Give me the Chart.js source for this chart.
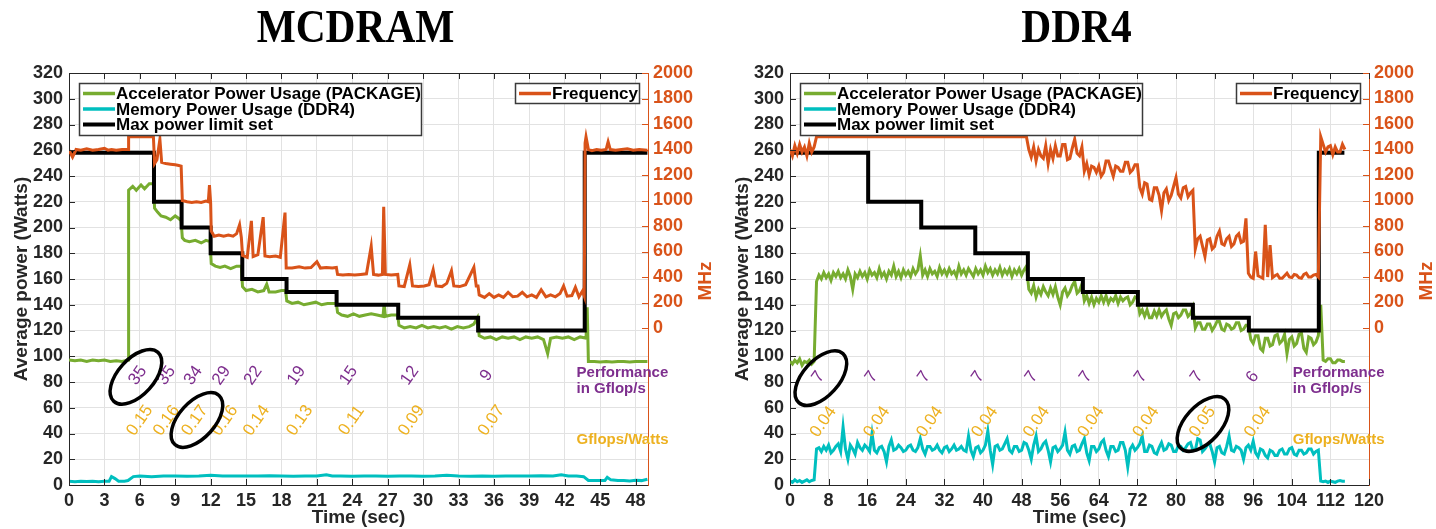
<!DOCTYPE html>
<html>
<head>
<meta charset="utf-8">
<title>Power capping: MCDRAM vs DDR4</title>
<script src="https://cdn.jsdelivr.net/npm/chart.js@4.4.1/dist/chart.umd.min.js"></script>
<style>
  html, body { margin: 0; padding: 0; background: #fff; overflow: hidden; }
  #wrap { width: 1436px; height: 529px; font-size: 0; white-space: nowrap; }
  .panel { display: inline-block; width: 718px; height: 529px; vertical-align: top; }
  canvas { display: block; }
</style>
</head>
<body>
<div id="wrap">
  <div class="panel"><canvas id="mcdramChart" width="718" height="529"></canvas></div>
  <div class="panel"><canvas id="ddr4Chart" width="718" height="529"></canvas></div>
</div>
<script>
// ---------- shared axis ticks ----------
const powerTicks = [0, 20, 40, 60, 80, 100, 120, 140, 160, 180, 200, 220, 240, 260, 280, 300, 320];
const freqTicks = [0, 200, 400, 600, 800, 1000, 1200, 1400, 1600, 1800, 2000];

// ---------- MCDRAM run: [time (s), value] ----------
const mcTimeTicks = [0, 3, 6, 9, 12, 15, 18, 21, 24, 27, 30, 33, 36, 39, 42, 45, 48];

const mcPackage = [
  [0,97],[0.5,96.5],[1,97],[1.5,96],[2,97],[2.5,96.5],[3,97],[3.5,96],[4,96.5],[4.5,96],[5.0,97],
  [5.05,229],[5.4,232],[5.7,229],[6.1,233],[6.4,230],[6.8,234],[7.15,234],
  [7.25,215],[7.5,212],[7.8,209],[8.2,208],[8.6,206],[9.0,209],[9.3,207],[9.5,205],
  [9.6,192],[9.8,190],[10.2,189],[10.7,190],[11.2,188],[11.6,190],[11.95,189],
  [12.05,172],[12.4,170],[12.8,169],[13.2,170],[13.7,168],[14.2,170],[14.6,170],
  [14.7,154],[15.0,151],[15.5,152],[16.0,150],[16.5,151],[16.75,156],[16.95,150],[17.5,150],[18.0,151],[18.35,151],
  [18.45,143],[18.9,141],[19.4,142],[19.9,140],[20.4,141],[20.9,142],[21.4,140],[21.9,141],[22.3,141],[22.65,141],
  [22.75,134],[23.1,132],[23.6,131],[24.1,133],[24.6,131],[25.1,132],[25.6,133],[26.1,132],[26.6,131],[26.7,141],[26.8,131],[27.3,132],[27.85,132],
  [27.95,124],[28.4,122],[28.9,123],[29.4,122],[29.9,124],[30.4,122],[30.9,123],[31.4,122],[31.9,123],[32.4,121],[32.9,123],[33.4,122],[33.9,123],[34.3,125],[34.6,130],
  [34.75,116],[35.2,114],[35.7,115],[36.2,113],[36.7,115],[37.2,114],[37.7,115],[38.2,113],[38.7,115],[39.2,114],[39.7,115],[40.2,113],[40.55,102],[40.8,114],[41.3,115],[41.8,114],[42.3,115],[42.8,113],[43.3,115],[43.8,114],
  [43.9,138],[44.0,96],[44.5,96],[45,95.5],[45.5,96],[46,95.5],[46.5,96],[47,96],[47.5,95.5],[48,96],[48.5,96],[49,96]
];

const mcMemory = [
  [0,3],[0.5,2.5],[1,3],[1.5,2.8],[2,3],[2.5,2.6],[3,3],[3.4,3],[3.6,6.5],[3.9,5],[4.2,3],[4.7,3],[5.0,3.5],[5.45,6.5],
  [6,7],[7,6.5],[8,7],[9,7],[10,6.8],[11,7],[12,7.5],[13,7],[14,7],[15,7],[16,7],[17,7.2],[18,7],[19,6.8],[20,7],[21,7],
  [21.8,8],[22.3,7],[23,7],[24,6.8],[25,7],[26,7],[27,6.8],[28,7],[29,7],[30,6.8],[31,7],[32,7.5],[33,7],[34,6.8],[35,7],
  [36,6.8],[37,7],[38,7],[39,7],[40,7.2],[41,7],[41.7,8],[42.3,7],[43,7],[43.6,6.5],[44,3.5],[44.7,3.5],[45.4,3.5],
  [45.6,6],[45.9,4],[46.5,3.5],[47,3.5],[47.5,3.2],[48,3.6],[48.5,3.4],[49,4.5]
];

const mcLimit = [
  [0,258],[7.2,220],[9.54,200],[12.0,180],[14.68,160],[18.43,150],[22.67,140],[27.89,130],[34.66,120],[43.69,258],[49,258]
];

const mcFreq = [
  [0,1395],[0.3,1340],[0.6,1400],[1,1395],[1.5,1405],[2,1395],[2.5,1400],[3,1410],[3.3,1395],[3.6,1400],[4,1395],[4.5,1400],[5.0,1400],
  [5.05,1500],[7.15,1500],
  [7.25,1290],[7.45,1320],[7.7,1480],[7.85,1300],[8.2,1290],[8.6,1285],[9.0,1280],[9.3,1275],[9.5,1270],
  [9.6,1000],[10.0,990],[10.4,985],[10.8,990],[11.2,985],[11.6,995],[11.8,990],[11.9,1120],[12.0,980],
  [12.05,760],[12.3,720],[12.7,730],[13.1,720],[13.5,730],[13.9,720],[14.2,740],[14.45,810],[14.6,710],
  [14.7,570],[15.1,555],[15.45,840],[15.6,560],[16.0,575],[16.45,870],[16.6,565],[17.0,560],[17.5,565],[17.9,555],[18.3,905],[18.4,470],
  [18.9,470],[19.5,480],[20.0,470],[20.5,475],[21.0,520],[21.3,470],[21.8,475],[22.3,470],[22.65,475],
  [22.75,420],[23.2,415],[23.7,420],[24.2,415],[24.7,420],[25.2,425],[25.6,640],[25.8,420],[26.2,415],[26.55,420],[26.66,950],[26.8,420],[27.3,415],[27.85,420],
  [27.95,330],[28.4,325],[28.87,496],[29.1,330],[29.6,325],[30.1,330],[30.5,340],[30.85,457],[31.1,330],[31.6,325],[32.0,350],[32.4,450],[32.6,330],[33.1,325],[33.6,340],[34.3,476],[34.5,330],[34.65,330],
  [34.75,260],[35.2,240],[35.6,270],[36.0,240],[36.4,260],[36.8,240],[37.2,280],[37.6,245],[38.0,250],[38.4,280],[38.8,245],[39.2,260],[39.6,240],[40.0,300],[40.4,245],[40.8,260],[41.2,245],[41.6,270],[41.9,330],[42.2,250],[42.6,255],[42.9,320],[43.2,245],[43.5,290],[43.65,250],
  [43.72,1450],[43.8,1500],[44.0,1400],[44.3,1390],[44.7,1400],[45.1,1395],[45.5,1400],[45.67,1460],[45.85,1400],[46.3,1395],[46.8,1400],[47.3,1405],[47.8,1395],[48.3,1400],[49,1395]
];

const mcPerfLabels = ['35', '35', '34', '29', '22', '19', '15', '12', '9'];
const mcPerfTimes = [5.84, 8.27, 10.53, 12.93, 15.61, 19.28, 23.7, 28.87, 35.37];
const mcEffLabels = ['0.15', '0.16', '0.17', '0.16', '0.14', '0.13', '0.11', '0.09', '0.07'];
const mcEffTimes = [6.01, 8.27, 10.67, 13.21, 15.89, 19.56, 23.94, 29.02, 35.79];
const mcCircled = [[5.67, 84], [10.84, 50.5]];

// ---------- DDR4 run: sampled every 0.5 s from t = 0 (one row = 5 s) ----------
const ddrTimeTicks = [0, 8, 16, 24, 32, 40, 48, 56, 64, 72, 80, 88, 96, 104, 112, 120];
const ddrSampleStep = 0.5;

const ddrPackage = [
  96,94,97,95,98,93,96,95,97,94,
  96,158,163,160,165,161,164,159,165,162,
  166,161,164,160,167,162,152,164,161,166,
  162,165,160,167,163,165,161,168,162,165,
  160,166,163,170,162,166,161,167,163,166,
  162,168,164,167,178,163,167,162,168,164,
  166,162,169,164,167,163,168,164,166,162,
  170,164,167,163,168,165,162,168,164,167,
  163,170,165,168,163,167,164,169,163,167,
  164,168,162,167,164,168,163,167,170,152,
  149,155,146,152,148,154,150,147,153,148,
  154,146,140,150,153,147,150,155,158,149,
  151,156,143,147,141,146,140,145,142,147,
  142,147,141,145,143,147,141,146,143,145,
  146,140,142,146,145,133,136,131,136,130,
  130,135,131,136,131,134,136,129,124,133,
  134,130,132,136,136,131,133,138,122,126,
  126,121,121,125,125,120,123,127,127,121,
  120,125,124,121,122,126,126,120,121,124,
  124,113,110,116,116,106,104,114,114,108,
  109,116,117,110,112,117,102,113,115,108,
  110,117,118,106,103,115,114,109,111,116,
  140,97,96,98,98,95,95,97,97,96,
  96
];

const ddrMemory = [
  3,2,4,2.5,3.5,2,3,4,2.5,3.5,
  4,28,29,26,30,27,31,25,27,30,
  32,26,45,28,20,31,28,24,33,29,
  27,31,29,26,40,27,25,29,30,26,
  18,30,35,27,28,31,29,26,27,30,
  31,27,26,29,36,28,24,30,30,27,
  28,31,27,25,29,30,26,28,31,27,
  28,30,27,26,38,27,22,29,30,25,
  27,31,42,27,16,30,31,27,28,32,
  36,27,25,30,30,26,27,33,32,27,
  20,31,38,26,28,32,34,27,18,29,
  30,26,28,31,41,27,24,30,31,26,
  27,32,36,25,19,30,30,26,28,33,
  35,27,22,30,30,26,27,33,33,27,
  14,28,31,27,29,32,38,26,26,31,
  30,25,24,29,33,27,28,32,31,26,
  26,31,30,27,29,32,33,27,27,36,
  35,26,28,31,32,26,18,29,30,25,
  24,30,38,27,26,30,29,27,20,29,
  31,27,34,25,22,28,27,23,21,27,
  26,23,23,27,28,24,24,28,29,24,
  23,27,27,24,25,28,28,24,26,27,
  3,2.5,3,2,3,2.5,2,3,3.5,3,
  3
];

const ddrFreq = [
  1400,1350,1430,1370,1440,1380,1420,1350,1450,1380,
  1420,1500,1500,1500,1500,1500,1500,1500,1500,1500,
  1500,1500,1500,1500,1500,1500,1500,1500,1500,1500,
  1500,1500,1500,1500,1500,1500,1500,1500,1500,1500,
  1500,1500,1500,1500,1500,1500,1500,1500,1500,1500,
  1500,1500,1500,1500,1500,1500,1500,1500,1500,1500,
  1500,1500,1500,1500,1500,1500,1500,1500,1500,1500,
  1500,1500,1500,1500,1500,1500,1500,1500,1500,1500,
  1500,1500,1500,1500,1500,1500,1500,1500,1500,1500,
  1500,1500,1500,1500,1500,1500,1500,1500,1500,1400,
  1340,1420,1310,1400,1350,1330,1430,1290,1400,1330,
  1430,1350,1350,1440,1440,1320,1330,1410,1480,1370,
  1350,1420,1230,1290,1200,1270,1260,1220,1270,1190,
  1220,1310,1310,1250,1190,1270,1260,1230,1230,1300,
  1300,1220,1240,1280,1280,1100,1050,1140,1130,1010,
  1000,1100,1100,1040,920,1060,1090,1000,1040,1110,
  1180,1050,1020,1100,1110,1030,1060,1080,620,700,
  720,640,560,690,700,620,640,720,760,660,
  650,700,720,640,660,720,740,670,680,860,
  430,400,390,600,410,400,390,810,400,650,
  395,410,420,390,390,410,430,400,395,420,
  415,395,390,420,430,400,400,415,420,400,
  1500,1440,1380,1420,1430,1360,1420,1380,1380,1440,
  1400
];

// power cap: [time (s), watts], held until the next entry
const ddrLimit = [
  [0,258],[16.2,220],[27.2,200],[38.4,180],[49.3,160],[60.7,150],[72.1,140],[83.5,130],[95.1,120],[109.6,258],[114.9,258]
];

const ddrPerfLabels = ['7', '7', '7', '7', '7', '7', '7', '7', '6'];
const ddrPerfTimes = [5.9, 16.9, 27.8, 39.0, 50.1, 61.3, 72.7, 84.3, 95.9];
const ddrEffLabels = ['0.04', '0.04', '0.04', '0.04', '0.04', '0.04', '0.04', '0.05', '0.04'];
const ddrEffTimes = [6.9, 18.0, 29.0, 40.4, 51.1, 62.4, 73.8, 85.5, 96.9];
const ddrCircled = [[6.4, 83], [85.6, 47.4]];

// ---------- styling ----------
const GREEN = '#77AC30';
const CYAN = '#00BFBF';
const ORANGE = '#D95319';
const PURPLE = '#7E2F8E';
const YELLOW = '#EDB120';
const INK = '#262626';
const GRID = '#e2e2e2';
const SANS = '"Liberation Sans", Arial, Helvetica, sans-serif';

const toXY = pairs => pairs.map(([x, y]) => ({ x, y }));
const sampled = (values, step) => values.map((y, i) => [i * step, y]);
const plainLabel = v => String(v);

function line(ctx, x1, y1, x2, y2) {
  ctx.moveTo(x1, y1);
  ctx.lineTo(x2, y2);
}

function drawRotated(ctx, text, x, y, color) {
  ctx.save();
  ctx.translate(x, y);
  ctx.rotate(-55 * Math.PI / 180);
  ctx.fillStyle = color;
  ctx.fillText(text, 0, 0);
  ctx.restore();
}

function drawLegendBox(ctx, x, y, w, h, rows) {
  ctx.fillStyle = '#fff';
  ctx.fillRect(x, y, w, h);
  ctx.lineWidth = 1.5;
  ctx.strokeStyle = '#3a3a3a';
  ctx.strokeRect(x + 0.5, y + 0.5, w, h);
  ctx.font = 'bold 17px ' + SANS;
  ctx.textAlign = 'left';
  ctx.textBaseline = 'middle';
  rows.forEach((r, i) => {
    const ry = y + 10.5 + i * 15.5;
    ctx.beginPath();
    ctx.strokeStyle = r.color;
    ctx.lineWidth = r.width;
    line(ctx, x + 4, ry, x + 36, ry);
    ctx.stroke();
    ctx.fillStyle = '#000';
    ctx.fillText(r.label, x + 37, ry + 1);
  });
}

// Draws everything Chart.js has no built-in for: inward ticks, box,
// rotated performance labels, circled values, inset legends and titles.
function panelOverlay(p) {
  return {
    id: 'panelOverlay',
    afterDatasetsDraw(chart) {
      const { ctx, chartArea: a, scales } = chart;
      const { x, y, y1 } = scales;
      ctx.save();

      // inward tick marks + top border
      ctx.lineWidth = 1;
      ctx.strokeStyle = INK;
      ctx.beginPath();
      x.ticks.forEach(t => {
        const px = Math.round(x.getPixelForValue(t.value)) + 0.5;
        line(ctx, px, a.bottom, px, a.bottom - 6);
        line(ctx, px, a.top, px, a.top + 6);
      });
      y.ticks.forEach(t => {
        const py = Math.round(y.getPixelForValue(t.value)) + 0.5;
        line(ctx, a.left, py, a.left + 6, py);
      });
      line(ctx, a.left, a.top + 0.5, a.right, a.top + 0.5);
      ctx.stroke();
      ctx.strokeStyle = ORANGE;
      ctx.beginPath();
      y1.ticks.forEach(t => {
        const py = Math.round(y1.getPixelForValue(t.value)) + 0.5;
        line(ctx, a.right, py, a.right - 6, py);
      });
      ctx.stroke();

      // Gflop/s and Gflops/Watt labels
      ctx.font = '17px ' + SANS;
      ctx.textAlign = 'center';
      ctx.textBaseline = 'middle';
      p.perfLabels.forEach((s, i) =>
        drawRotated(ctx, s, x.getPixelForValue(p.perfTimes[i]), y.getPixelForValue(p.perfLevel), PURPLE));
      p.effLabels.forEach((s, i) =>
        drawRotated(ctx, s, x.getPixelForValue(p.effTimes[i]), y.getPixelForValue(p.effLevel), YELLOW));

      // circled values
      ctx.strokeStyle = '#000';
      ctx.lineWidth = 3.5;
      p.circled.forEach(([t, v]) => {
        ctx.beginPath();
        ctx.ellipse(x.getPixelForValue(t), y.getPixelForValue(v), 33, 18, -48 * Math.PI / 180, 0, Math.PI * 2);
        ctx.stroke();
      });

      // side notes
      ctx.font = 'bold 15px ' + SANS;
      ctx.textAlign = 'left';
      const nx = x.getPixelForValue(p.noteTime);
      ctx.fillStyle = PURPLE;
      ctx.fillText('Performance', nx, y.getPixelForValue(87));
      ctx.fillText('in Gflop/s', nx, y.getPixelForValue(74.6));
      ctx.fillStyle = YELLOW;
      ctx.fillText('Gflops/Watts', nx, y.getPixelForValue(35));

      // inset legends
      const ds = chart.data.datasets;
      drawLegendBox(ctx, a.left + 10, a.top + 10, 342, 52, [
        { label: ds[2].label, color: GREEN, width: 3.5 },
        { label: ds[3].label, color: CYAN, width: 3.5 },
        { label: ds[1].label, color: '#000', width: 4 }
      ]);
      drawLegendBox(ctx, a.right - 133, a.top + 10, 124, 20, [
        { label: ds[0].label, color: ORANGE, width: 3.5 }
      ]);
      ctx.restore();
    },
    afterDraw(chart) {
      const { ctx, chartArea: a } = chart;
      const cx = (a.left + a.right) / 2;
      const cy = (a.top + a.bottom) / 2;
      ctx.save();

      // panel title
      ctx.font = 'bold 46px "Liberation Serif", "Times New Roman", serif';
      ctx.fillStyle = '#000';
      ctx.textAlign = 'center';
      ctx.textBaseline = 'alphabetic';
      ctx.save();
      ctx.translate(cx - 3, 42);
      ctx.scale(0.9, 1);
      ctx.fillText(p.title, 0, 0);
      ctx.restore();

      // axis titles
      ctx.font = 'bold 19px ' + SANS;
      ctx.textBaseline = 'middle';
      ctx.fillStyle = INK;
      ctx.fillText('Time (sec)', cx, 518);

      ctx.save();
      ctx.translate(a.left - 47, cy);
      ctx.rotate(-Math.PI / 2);
      ctx.fillText('Average power (Watts)', 0, 0);
      ctx.restore();

      ctx.save();
      ctx.translate(a.right + 58, cy + 2);
      ctx.rotate(-Math.PI / 2);
      ctx.fillStyle = ORANGE;
      ctx.fillText('MHz', 0, 0);
      ctx.restore();

      ctx.restore();
    }
  };
}

function buildPanel(canvasId, p) {
  const tickFont = { family: SANS, size: 18, weight: 'bold' };
  return new Chart(document.getElementById(canvasId), {
    type: 'line',
    data: {
      datasets: [
        { label: 'Frequency', data: toXY(p.freq), yAxisID: 'y1', borderColor: ORANGE, borderWidth: 3, order: 0 },
        { label: 'Max power limit set', data: toXY(p.limit), yAxisID: 'y', borderColor: '#000', borderWidth: 4, stepped: true, order: 1 },
        { label: 'Accelerator Power Usage (PACKAGE)', data: toXY(p.pkg), yAxisID: 'y', borderColor: GREEN, borderWidth: 3, order: 2 },
        { label: 'Memory Power Usage (DDR4)', data: toXY(p.mem), yAxisID: 'y', borderColor: CYAN, borderWidth: 3, order: 3 }
      ]
    },
    options: {
      responsive: false,
      animation: false,
      devicePixelRatio: 1,
      layout: { padding: { top: 73, left: 0, right: 0, bottom: 0 } },
      elements: { point: { radius: 0 }, line: { tension: 0, fill: false } },
      plugins: { legend: { display: false }, tooltip: { enabled: false } },
      scales: {
        x: {
          type: 'linear',
          min: 0,
          max: p.xMax,
          afterBuildTicks: s => { s.ticks = p.xTicks.map(v => ({ value: v })); },
          afterFit: s => { s.height = 44; },
          grid: { color: GRID, drawTicks: false },
          border: { color: INK },
          ticks: { color: INK, font: tickFont, padding: 5, maxRotation: 0, autoSkip: false, callback: plainLabel }
        },
        y: {
          position: 'left',
          min: 0,
          max: 320,
          afterBuildTicks: s => { s.ticks = powerTicks.map(v => ({ value: v })); },
          afterFit: s => { s.width = p.leftWidth; },
          grid: { color: GRID, drawTicks: false },
          border: { color: INK },
          ticks: { color: INK, font: tickFont, padding: 6, autoSkip: false, callback: plainLabel }
        },
        y1: {
          position: 'right',
          min: -1231,
          max: 2000,
          afterBuildTicks: s => { s.ticks = freqTicks.map(v => ({ value: v })); },
          afterFit: s => { s.width = p.rightWidth; },
          grid: { display: false, drawTicks: false },
          border: { color: ORANGE },
          ticks: { color: ORANGE, font: tickFont, padding: 5, autoSkip: false, callback: plainLabel }
        }
      }
    },
    plugins: [panelOverlay(p)]
  });
}

buildPanel('mcdramChart', {
  title: 'MCDRAM',
  xMax: 49.05, xTicks: mcTimeTicks,
  pkg: mcPackage, mem: mcMemory, limit: mcLimit, freq: mcFreq,
  perfLabels: mcPerfLabels, perfTimes: mcPerfTimes, perfLevel: 85,
  effLabels: mcEffLabels, effTimes: mcEffTimes, effLevel: 50,
  circled: mcCircled, noteTime: 43.0,
  leftWidth: 69, rightWidth: 70
});

buildPanel('ddr4Chart', {
  title: 'DDR4',
  xMax: 120, xTicks: ddrTimeTicks,
  pkg: sampled(ddrPackage, ddrSampleStep),
  mem: sampled(ddrMemory, ddrSampleStep),
  limit: ddrLimit,
  freq: sampled(ddrFreq, ddrSampleStep),
  perfLabels: ddrPerfLabels, perfTimes: ddrPerfTimes, perfLevel: 84,
  effLabels: ddrEffLabels, effTimes: ddrEffTimes, effLevel: 49,
  circled: ddrCircled, noteTime: 104.2,
  leftWidth: 72, rightWidth: 67
});
</script>
</body>
</html>
